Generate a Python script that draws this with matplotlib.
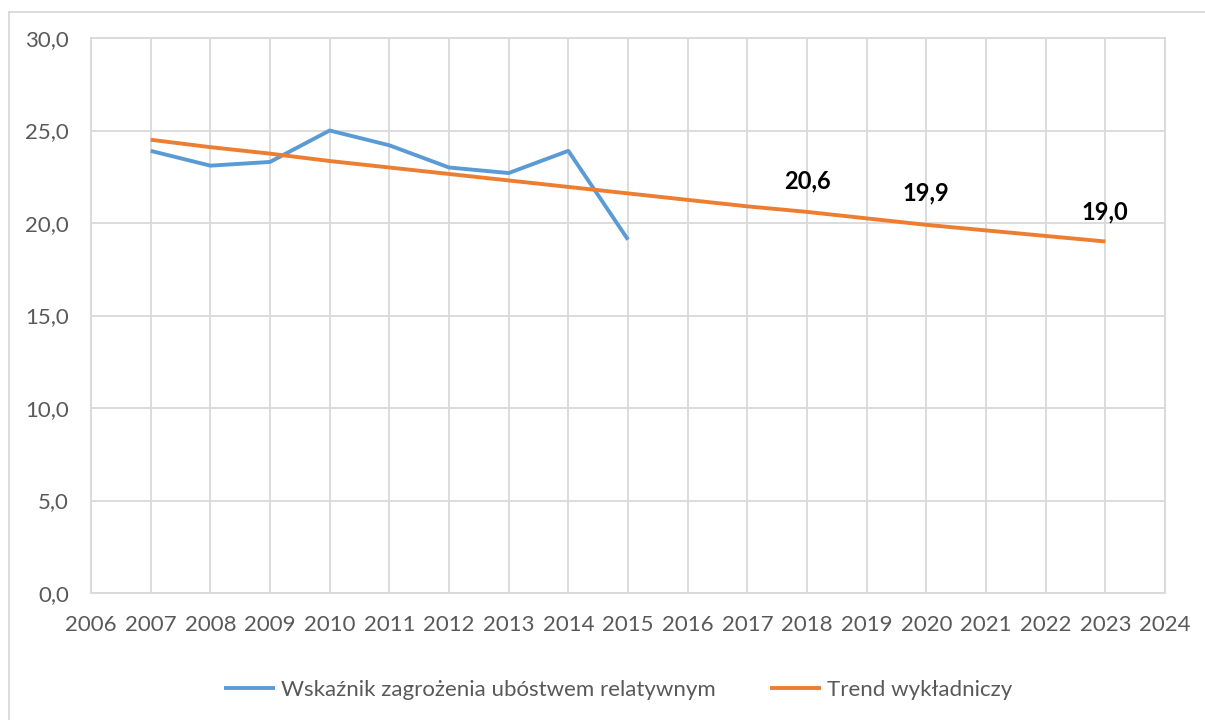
import matplotlib
matplotlib.use('Agg')
import matplotlib.pyplot as plt
from matplotlib.lines import Line2D

plt.rcParams['font.family'] = ['Lato', 'DejaVu Sans']

years = [2007, 2008, 2009, 2010, 2011, 2012, 2013, 2014, 2015]
rate = [23.9, 23.1, 23.3, 25.0, 24.2, 23.0, 22.7, 23.9, 19.1]

trend_years = [2007, 2008, 2009, 2010, 2011, 2012, 2013, 2014, 2015,
               2016, 2017, 2018, 2019, 2020, 2021, 2022, 2023]
trend = [24.5, 24.1, 23.75, 23.35, 23.0, 22.65, 22.3, 21.95, 21.6,
         21.25, 20.9, 20.6, 20.25, 19.9, 19.6, 19.3, 19.0]

label_years = [2018, 2020, 2023]
label_text = ['20,6', '19,9', '19,0']
label_y = [22.3, 21.6, 20.6]

grid_col = '#d9d9d9'
text_col = '#595959'

fig = plt.figure(figsize=(12.05, 7.2), dpi=100)
ax = fig.add_axes([91 / 1205, 1 - 593 / 720, (1165 - 91) / 1205, (593 - 38) / 720])

ax.plot(years, rate, color='#5b9bd5', lw=2.8, solid_capstyle='butt',
        label='Wskaźnik zagrożenia ubóstwem relatywnym')
ax.plot(trend_years, trend, color='#ed7d31', lw=2.8, solid_capstyle='butt',
        label='Trend wykładniczy')

for x, y, t in zip(label_years, label_y, label_text):
    ax.text(x, y, t, ha='center', va='center', fontsize=17, fontweight='bold', color='black')

ax.set_xlim(2006, 2024)
ax.set_ylim(0, 30)
ax.set_xticks(range(2006, 2025))
ax.set_yticks(range(0, 31, 5))
ax.set_yticklabels([('%.1f' % v).replace('.', ',') for v in range(0, 31, 5)])
ax.grid(True, color=grid_col, lw=1.3)
ax.set_axisbelow(True)
for s in ax.spines.values():
    s.set_color(grid_col)
    s.set_linewidth(1.3)
ax.tick_params(length=0, labelsize=16, labelcolor=text_col)
ax.tick_params(axis='x', pad=16)
ax.tick_params(axis='y', pad=16)

leg = fig.legend(loc='center', bbox_to_anchor=(0.513, 1 - 690 / 720), ncol=2,
                 frameon=False, fontsize=16, handlelength=2.3, handletextpad=0.3,
                 columnspacing=2.4)
for t in leg.get_texts():
    t.set_color(text_col)

# outer chart border (only top and left visible)
fig.add_artist(Line2D([9 / 1205, 1], [1 - 12 / 720, 1 - 12 / 720], color=grid_col, lw=1.3))
fig.add_artist(Line2D([9 / 1205, 9 / 1205], [0, 1 - 12 / 720], color=grid_col, lw=1.3))

fig.savefig('out.png', dpi=100)
